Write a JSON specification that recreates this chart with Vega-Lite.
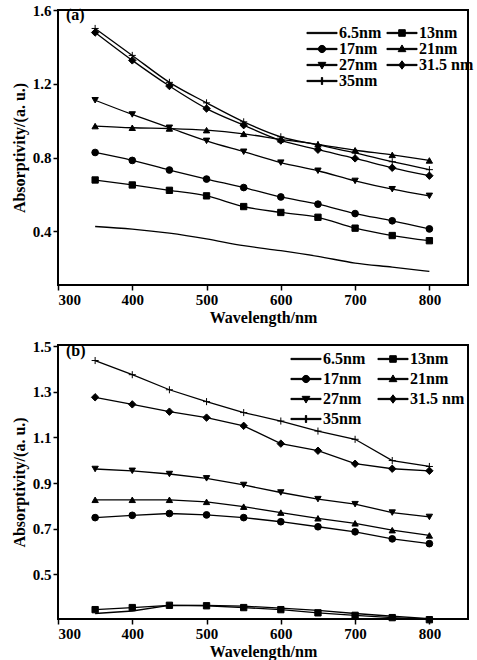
{
  "$schema": "https://vega.github.io/schema/vega-lite/v6.json",
  "padding": {"left": 10, "top": 2, "right": 2, "bottom": 2},
  "background": "white",
  "config": {
    "font": "Liberation Serif",
    "view": {"stroke": "black", "strokeWidth": 2},
    "concat": {"spacing": 60},
    "axis": {
      "grid": false,
      "domain": false,
      "tickColor": "black",
      "tickSize": 5,
      "tickWidth": 1.5,
      "labelFont": "Liberation Serif",
      "labelFontWeight": "bold",
      "labelFontSize": 15,
      "labelColor": "black",
      "titleFont": "Liberation Serif",
      "titleFontWeight": "bold",
      "titleFontSize": 16,
      "titleColor": "black"
    },
    "legend": {
      "labelFont": "Liberation Serif",
      "labelFontWeight": "bold",
      "labelFontSize": 16,
      "labelColor": "black",
      "symbolFillColor": "black",
      "symbolOpacity": 1
    },
    "point": {"filled": true, "color": "black", "stroke": "black", "strokeWidth": 1, "size": 45, "opacity": 1}
  },
  "datasets": {
    "a": [
      {"s": "6.5nm", "nm": 350, "v": 0.427}, {"s": "6.5nm", "nm": 400, "v": 0.413}, {"s": "6.5nm", "nm": 450, "v": 0.391}, {"s": "6.5nm", "nm": 500, "v": 0.360}, {"s": "6.5nm", "nm": 550, "v": 0.323}, {"s": "6.5nm", "nm": 600, "v": 0.296}, {"s": "6.5nm", "nm": 650, "v": 0.265}, {"s": "6.5nm", "nm": 700, "v": 0.229}, {"s": "6.5nm", "nm": 750, "v": 0.207}, {"s": "6.5nm", "nm": 800, "v": 0.184},
      {"s": "13nm", "nm": 350, "v": 0.679}, {"s": "13nm", "nm": 400, "v": 0.652}, {"s": "13nm", "nm": 450, "v": 0.623}, {"s": "13nm", "nm": 500, "v": 0.593}, {"s": "13nm", "nm": 550, "v": 0.535}, {"s": "13nm", "nm": 600, "v": 0.503}, {"s": "13nm", "nm": 650, "v": 0.477}, {"s": "13nm", "nm": 700, "v": 0.418}, {"s": "13nm", "nm": 750, "v": 0.378}, {"s": "13nm", "nm": 800, "v": 0.350},
      {"s": "17nm", "nm": 350, "v": 0.828}, {"s": "17nm", "nm": 400, "v": 0.785}, {"s": "17nm", "nm": 450, "v": 0.733}, {"s": "17nm", "nm": 500, "v": 0.684}, {"s": "17nm", "nm": 550, "v": 0.638}, {"s": "17nm", "nm": 600, "v": 0.587}, {"s": "17nm", "nm": 650, "v": 0.548}, {"s": "17nm", "nm": 700, "v": 0.497}, {"s": "17nm", "nm": 750, "v": 0.458}, {"s": "17nm", "nm": 800, "v": 0.414},
      {"s": "21nm", "nm": 350, "v": 0.971}, {"s": "21nm", "nm": 400, "v": 0.962}, {"s": "21nm", "nm": 450, "v": 0.958}, {"s": "21nm", "nm": 500, "v": 0.949}, {"s": "21nm", "nm": 550, "v": 0.929}, {"s": "21nm", "nm": 600, "v": 0.899}, {"s": "21nm", "nm": 650, "v": 0.872}, {"s": "21nm", "nm": 700, "v": 0.840}, {"s": "21nm", "nm": 750, "v": 0.815}, {"s": "21nm", "nm": 800, "v": 0.785},
      {"s": "27nm", "nm": 350, "v": 1.111}, {"s": "27nm", "nm": 400, "v": 1.034}, {"s": "27nm", "nm": 450, "v": 0.962}, {"s": "27nm", "nm": 500, "v": 0.891}, {"s": "27nm", "nm": 550, "v": 0.832}, {"s": "27nm", "nm": 600, "v": 0.773}, {"s": "27nm", "nm": 650, "v": 0.729}, {"s": "27nm", "nm": 700, "v": 0.674}, {"s": "27nm", "nm": 750, "v": 0.629}, {"s": "27nm", "nm": 800, "v": 0.593},
      {"s": "31.5 nm", "nm": 350, "v": 1.478}, {"s": "31.5 nm", "nm": 400, "v": 1.327}, {"s": "31.5 nm", "nm": 450, "v": 1.188}, {"s": "31.5 nm", "nm": 500, "v": 1.066}, {"s": "31.5 nm", "nm": 550, "v": 0.976}, {"s": "31.5 nm", "nm": 600, "v": 0.893}, {"s": "31.5 nm", "nm": 650, "v": 0.843}, {"s": "31.5 nm", "nm": 700, "v": 0.796}, {"s": "31.5 nm", "nm": 750, "v": 0.745}, {"s": "31.5 nm", "nm": 800, "v": 0.702},
      {"s": "35nm", "nm": 350, "v": 1.500}, {"s": "35nm", "nm": 400, "v": 1.354}, {"s": "35nm", "nm": 450, "v": 1.208}, {"s": "35nm", "nm": 500, "v": 1.097}, {"s": "35nm", "nm": 550, "v": 0.994}, {"s": "35nm", "nm": 600, "v": 0.913}, {"s": "35nm", "nm": 650, "v": 0.870}, {"s": "35nm", "nm": 700, "v": 0.826}, {"s": "35nm", "nm": 750, "v": 0.778}, {"s": "35nm", "nm": 800, "v": 0.735}
    ],
    "b": [
      {"s": "6.5nm", "nm": 350, "v": 0.329}, {"s": "6.5nm", "nm": 400, "v": 0.340}, {"s": "6.5nm", "nm": 450, "v": 0.365}, {"s": "6.5nm", "nm": 500, "v": 0.365}, {"s": "6.5nm", "nm": 550, "v": 0.361}, {"s": "6.5nm", "nm": 600, "v": 0.353}, {"s": "6.5nm", "nm": 650, "v": 0.343}, {"s": "6.5nm", "nm": 700, "v": 0.329}, {"s": "6.5nm", "nm": 750, "v": 0.317}, {"s": "6.5nm", "nm": 800, "v": 0.307},
      {"s": "13nm", "nm": 350, "v": 0.346}, {"s": "13nm", "nm": 400, "v": 0.355}, {"s": "13nm", "nm": 450, "v": 0.365}, {"s": "13nm", "nm": 500, "v": 0.363}, {"s": "13nm", "nm": 550, "v": 0.355}, {"s": "13nm", "nm": 600, "v": 0.346}, {"s": "13nm", "nm": 650, "v": 0.332}, {"s": "13nm", "nm": 700, "v": 0.321}, {"s": "13nm", "nm": 750, "v": 0.311}, {"s": "13nm", "nm": 800, "v": 0.302},
      {"s": "17nm", "nm": 350, "v": 0.749}, {"s": "17nm", "nm": 400, "v": 0.759}, {"s": "17nm", "nm": 450, "v": 0.767}, {"s": "17nm", "nm": 500, "v": 0.761}, {"s": "17nm", "nm": 550, "v": 0.749}, {"s": "17nm", "nm": 600, "v": 0.731}, {"s": "17nm", "nm": 650, "v": 0.709}, {"s": "17nm", "nm": 700, "v": 0.687}, {"s": "17nm", "nm": 750, "v": 0.656}, {"s": "17nm", "nm": 800, "v": 0.635},
      {"s": "21nm", "nm": 350, "v": 0.827}, {"s": "21nm", "nm": 400, "v": 0.827}, {"s": "21nm", "nm": 450, "v": 0.827}, {"s": "21nm", "nm": 500, "v": 0.818}, {"s": "21nm", "nm": 550, "v": 0.797}, {"s": "21nm", "nm": 600, "v": 0.771}, {"s": "21nm", "nm": 650, "v": 0.746}, {"s": "21nm", "nm": 700, "v": 0.724}, {"s": "21nm", "nm": 750, "v": 0.694}, {"s": "21nm", "nm": 800, "v": 0.671},
      {"s": "27nm", "nm": 350, "v": 0.962}, {"s": "27nm", "nm": 400, "v": 0.954}, {"s": "27nm", "nm": 450, "v": 0.940}, {"s": "27nm", "nm": 500, "v": 0.921}, {"s": "27nm", "nm": 550, "v": 0.892}, {"s": "27nm", "nm": 600, "v": 0.859}, {"s": "27nm", "nm": 650, "v": 0.830}, {"s": "27nm", "nm": 700, "v": 0.808}, {"s": "27nm", "nm": 750, "v": 0.771}, {"s": "27nm", "nm": 800, "v": 0.752},
      {"s": "31.5 nm", "nm": 350, "v": 1.276}, {"s": "31.5 nm", "nm": 400, "v": 1.245}, {"s": "31.5 nm", "nm": 450, "v": 1.213}, {"s": "31.5 nm", "nm": 500, "v": 1.187}, {"s": "31.5 nm", "nm": 550, "v": 1.151}, {"s": "31.5 nm", "nm": 600, "v": 1.073}, {"s": "31.5 nm", "nm": 650, "v": 1.042}, {"s": "31.5 nm", "nm": 700, "v": 0.985}, {"s": "31.5 nm", "nm": 750, "v": 0.963}, {"s": "31.5 nm", "nm": 800, "v": 0.954},
      {"s": "35nm", "nm": 350, "v": 1.437}, {"s": "35nm", "nm": 400, "v": 1.375}, {"s": "35nm", "nm": 450, "v": 1.309}, {"s": "35nm", "nm": 500, "v": 1.257}, {"s": "35nm", "nm": 550, "v": 1.209}, {"s": "35nm", "nm": 600, "v": 1.172}, {"s": "35nm", "nm": 650, "v": 1.128}, {"s": "35nm", "nm": 700, "v": 1.092}, {"s": "35nm", "nm": 750, "v": 0.999}, {"s": "35nm", "nm": 800, "v": 0.973}
    ]
  },
  "bounds": "flush",
  "resolve": {
    "scale": {"shape": "independent", "x": "independent", "y": "independent"},
    "legend": {"shape": "independent"}
  },
  "vconcat": [
    {
      "width": 410,
      "height": 275,
      "data": {"name": "a"},
      "title": {"text": "(a)", "anchor": "start", "frame": "group", "orient": "top", "offset": -20, "dx": 8, "font": "Liberation Serif", "fontSize": 16, "fontWeight": "bold", "color": "black"},
      "encoding": {
        "x": {"field": "nm", "type": "quantitative", "scale": {"domain": [300, 852], "nice": false}, "axis": {"values": [300, 400, 500, 600, 700, 800], "title": "Wavelength/nm", "titlePadding": 2}},
        "y": {"field": "v", "type": "quantitative", "scale": {"domain": [0.11, 1.6], "nice": false, "zero": false}, "axis": {"values": [0.4, 0.8, 1.2, 1.6], "format": ".1f", "title": "Absorptivity/(a. u.)", "titlePadding": 5}}
      },
      "layer": [
        {"mark": {"type": "line", "color": "black", "strokeWidth": 1.3, "interpolate": "monotone"}, "encoding": {"detail": {"field": "s"}}},
        {"transform": [{"filter": "datum.s === '13nm'"}], "mark": {"type": "point", "shape": "square", "size": 40}},
        {"transform": [{"filter": "datum.s === '17nm'"}], "mark": {"type": "point", "shape": "circle"}},
        {"transform": [{"filter": "datum.s === '21nm'"}], "mark": {"type": "point", "shape": "triangle-up", "size": 40}},
        {"transform": [{"filter": "datum.s === '27nm'"}], "mark": {"type": "point", "shape": "triangle-down", "size": 40}},
        {"transform": [{"filter": "datum.s === '31.5 nm'"}], "mark": {"type": "point", "shape": "diamond", "size": 55}},
        {"transform": [{"filter": "datum.s === '35nm'"}], "mark": {"type": "point", "shape": "M-1,0H1M0,-1V1", "size": 50}},
        {
          "transform": [{"filter": "datum.v < 0"}],
          "mark": {"type": "point"},
          "encoding": {
            "shape": {"field": "s", "type": "nominal",
              "scale": {"domain": ["6.5nm", "13nm", "17nm", "21nm", "27nm", "31.5 nm", "35nm"],
                        "range": [
                          "M-2.15,-0.09H2.15V0.09H-2.15Z",
                          "M-2.15,-0.09H2.15V0.09H-2.15ZM-0.47,-0.47H0.47V0.47H-0.47Z",
                          "M-2.15,-0.09H2.15V0.09H-2.15ZM0.52,0A0.52,0.52 0 1,1 -0.52,0A0.52,0.52 0 1,1 0.52,0Z",
                          "M-2.15,-0.09H2.15V0.09H-2.15ZM0,-0.58L0.55,0.38H-0.55Z",
                          "M-2.15,-0.09H2.15V0.09H-2.15ZM0,0.58L-0.55,-0.38H0.55Z",
                          "M-2.15,-0.09H2.15V0.09H-2.15ZM0,-0.6L0.45,0L0,0.6L-0.45,0Z",
                          "M-2.15,-0.09H2.15V0.09H-2.15ZM-0.09,-0.5H0.09V0.5H-0.09Z"]},
              "legend": {"title": null, "orient": "none", "legendX": 256, "legendY": 15, "direction": "horizontal", "columns": 2, "symbolSize": 196, "rowPadding": 0, "columnPadding": 2, "labelOffset": 9}
            }
          }
        }
      ]
    },
    {
      "width": 410,
      "height": 274,
      "data": {"name": "b"},
      "title": {"text": "(b)", "anchor": "start", "frame": "group", "orient": "top", "offset": -20, "dx": 8, "font": "Liberation Serif", "fontSize": 16, "fontWeight": "bold", "color": "black"},
      "encoding": {
        "x": {"field": "nm", "type": "quantitative", "scale": {"domain": [300, 852], "nice": false}, "axis": {"values": [300, 400, 500, 600, 700, 800], "title": "Wavelength/nm", "titlePadding": 2}},
        "y": {"field": "v", "type": "quantitative", "scale": {"domain": [0.305, 1.505], "nice": false, "zero": false}, "axis": {"values": [0.3, 0.5, 0.7, 0.9, 1.1, 1.3, 1.5], "format": ".1f", "title": "Absorptivity/(a. u.)", "titlePadding": 5}}
      },
      "layer": [
        {"mark": {"type": "line", "color": "black", "strokeWidth": 1.3}, "encoding": {"detail": {"field": "s"}}},
        {"transform": [{"filter": "datum.s === '13nm'"}], "mark": {"type": "point", "shape": "square", "size": 40}},
        {"transform": [{"filter": "datum.s === '17nm'"}], "mark": {"type": "point", "shape": "circle"}},
        {"transform": [{"filter": "datum.s === '21nm'"}], "mark": {"type": "point", "shape": "triangle-up", "size": 40}},
        {"transform": [{"filter": "datum.s === '27nm'"}], "mark": {"type": "point", "shape": "triangle-down", "size": 40}},
        {"transform": [{"filter": "datum.s === '31.5 nm'"}], "mark": {"type": "point", "shape": "diamond", "size": 55}},
        {"transform": [{"filter": "datum.s === '35nm'"}], "mark": {"type": "point", "shape": "M-1,0H1M0,-1V1", "size": 50}},
        {
          "transform": [{"filter": "datum.v < 0"}],
          "mark": {"type": "point"},
          "encoding": {
            "shape": {"field": "s", "type": "nominal",
              "scale": {"domain": ["6.5nm", "13nm", "17nm", "21nm", "27nm", "31.5 nm", "35nm"],
                        "range": [
                          "M-2.15,-0.09H2.15V0.09H-2.15Z",
                          "M-2.15,-0.09H2.15V0.09H-2.15ZM-0.47,-0.47H0.47V0.47H-0.47Z",
                          "M-2.15,-0.09H2.15V0.09H-2.15ZM0.52,0A0.52,0.52 0 1,1 -0.52,0A0.52,0.52 0 1,1 0.52,0Z",
                          "M-2.15,-0.09H2.15V0.09H-2.15ZM0,-0.58L0.55,0.38H-0.55Z",
                          "M-2.15,-0.09H2.15V0.09H-2.15ZM0,0.58L-0.55,-0.38H0.55Z",
                          "M-2.15,-0.09H2.15V0.09H-2.15ZM0,-0.6L0.45,0L0,0.6L-0.45,0Z",
                          "M-2.15,-0.09H2.15V0.09H-2.15ZM-0.09,-0.5H0.09V0.5H-0.09Z"]},
              "legend": {"title": null, "orient": "none", "legendX": 240, "legendY": 6, "direction": "horizontal", "columns": 2, "symbolSize": 196, "rowPadding": 4, "columnPadding": 9, "labelOffset": 9}
            }
          }
        }
      ]
    }
  ]
}
